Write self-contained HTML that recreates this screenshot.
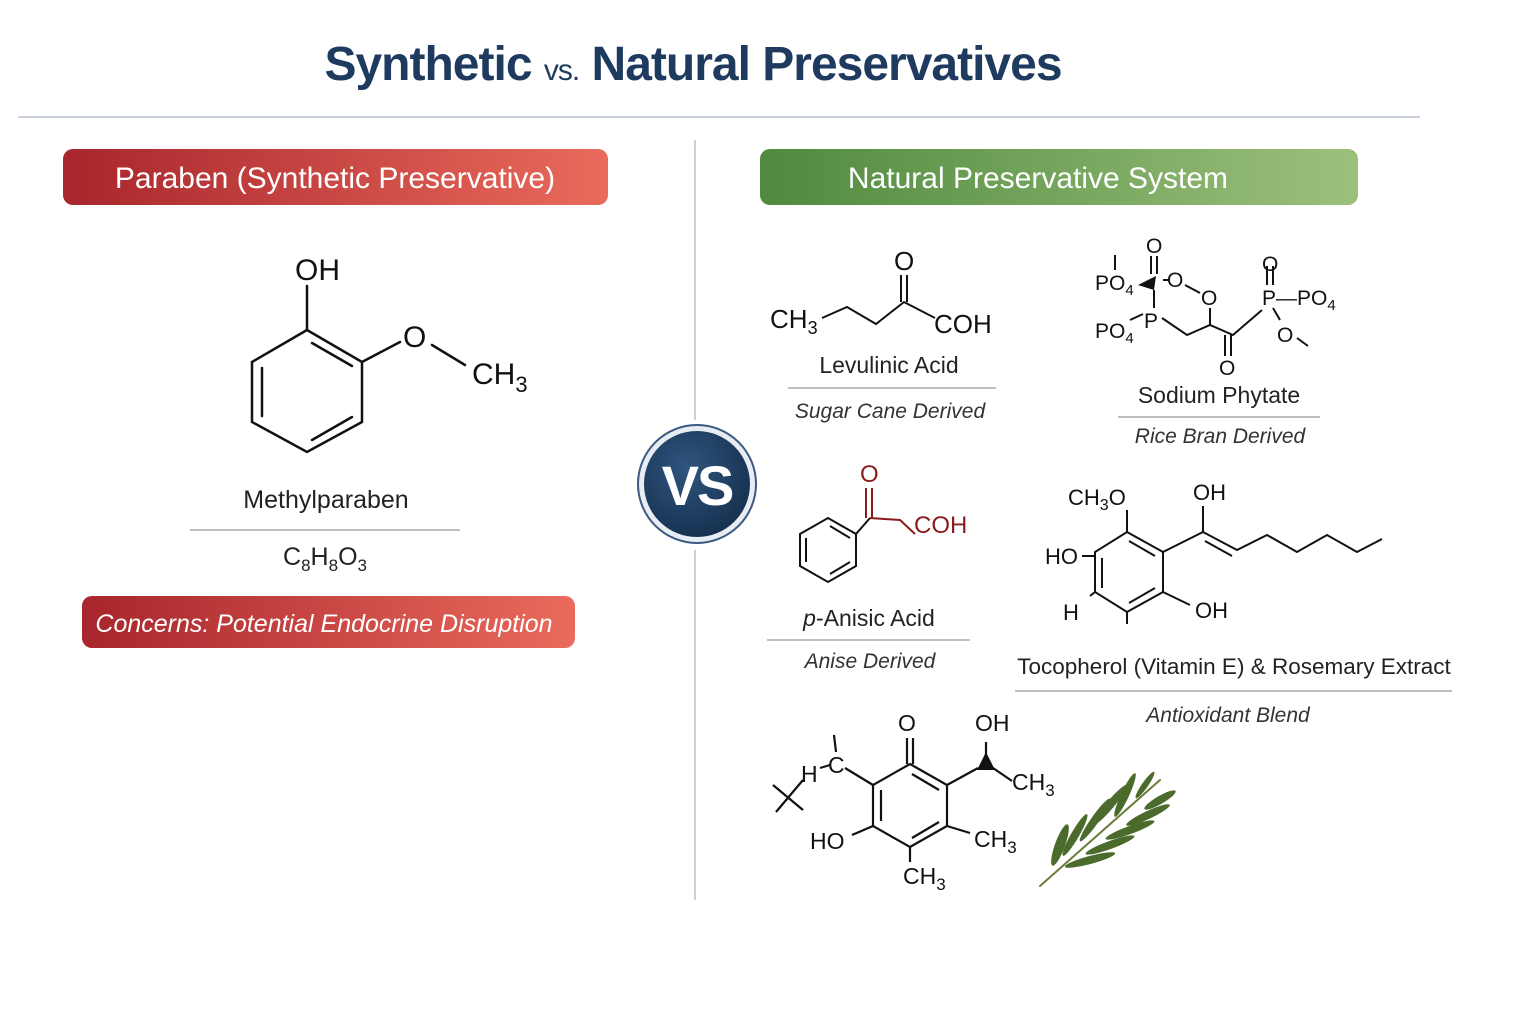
<!DOCTYPE html>
<html><head><meta charset="utf-8">
<style>
html,body{margin:0;padding:0;background:#fff;}
svg{display:block;}
text{font-family:"Liberation Sans",sans-serif;}
</style></head>
<body>
<svg width="1536" height="1024" viewBox="0 0 1536 1024" xmlns="http://www.w3.org/2000/svg">
<defs>
<linearGradient id="red" x1="0" x2="1"><stop offset="0" stop-color="#a8262c"/><stop offset="1" stop-color="#ea6a5c"/></linearGradient>
<linearGradient id="green" x1="0" x2="1"><stop offset="0" stop-color="#4f8a3e"/><stop offset="1" stop-color="#9cc07c"/></linearGradient>
<radialGradient id="vs" cx="0.4" cy="0.35" r="0.7"><stop offset="0" stop-color="#2f557e"/><stop offset="1" stop-color="#16304f"/></radialGradient>
</defs>
<rect width="1536" height="1024" fill="#fff"/>
<text x="693" y="80" text-anchor="middle" fill="#1e3a5f" font-weight="bold" font-size="48" style="letter-spacing:-1px">Synthetic <tspan font-size="30" font-weight="normal">vs.</tspan> Natural Preservatives</text>
<line x1="18" y1="117" x2="1420" y2="117" stroke="#c9d2dc" stroke-width="2"/>
<rect x="63" y="149" width="545" height="56" rx="10" fill="url(#red)"/>
<text x="335" y="188" text-anchor="middle" fill="#fff" font-size="30">Paraben (Synthetic Preservative)</text>
<rect x="760" y="149" width="598" height="56" rx="10" fill="url(#green)"/>
<text x="1038" y="188" text-anchor="middle" fill="#fff" font-size="30">Natural Preservative System</text>
<line x1="695" y1="140" x2="695" y2="420" stroke="#c9d2dc" stroke-width="2"/>
<line x1="695" y1="550" x2="695" y2="900" stroke="#c9d2dc" stroke-width="2"/>
<circle cx="697" cy="484" r="59" fill="#e8edf3" stroke="#3a5a80" stroke-width="2"/>
<circle cx="697" cy="484" r="53" fill="url(#vs)"/>
<text x="697" y="505" text-anchor="middle" fill="#fff" font-weight="bold" font-size="56" style="letter-spacing:-2px">VS</text>

<g stroke="#111" stroke-width="2.5" fill="none" stroke-linecap="round">
<polygon points="307,330 362,362 362,422 307,452 252,422 252,362"/>
<line x1="262" y1="368" x2="262" y2="416"/>
<line x1="312" y1="343" x2="352" y2="366"/>
<line x1="312" y1="440" x2="352" y2="417"/>
<line x1="307" y1="330" x2="307" y2="286"/>
<line x1="362" y1="362" x2="400" y2="342"/>
<line x1="432" y1="345" x2="465" y2="365"/>
</g>
<g font-size="30" fill="#111">
<text x="295" y="280">OH</text>
<text x="403" y="347">O</text>
<text x="472" y="384">CH<tspan font-size="22" dy="8">3</tspan></text>
</g>
<text x="326" y="508" text-anchor="middle" font-size="25" fill="#222">Methylparaben</text>
<line x1="190" y1="530" x2="460" y2="530" stroke="#aaa" stroke-width="1.5"/>
<text x="283" y="565" font-size="25" fill="#222">C<tspan font-size="17" dy="6">8</tspan><tspan dy="-6">H</tspan><tspan font-size="17" dy="6">8</tspan><tspan dy="-6">O</tspan><tspan font-size="17" dy="6">3</tspan></text>
<rect x="82" y="596" width="493" height="52" rx="10" fill="url(#red)"/>
<text x="324" y="632" text-anchor="middle" fill="#fff" font-size="25" font-style="italic">Concerns: Potential Endocrine Disruption</text>

<g stroke="#111" stroke-width="2" fill="none">
<polyline points="822,318 847,307 876,324 904,302 935,318"/>
<line x1="901" y1="302" x2="901" y2="275"/><line x1="907" y1="302" x2="907" y2="275"/>
</g>
<g font-size="26" fill="#111">
<text x="770" y="328">CH<tspan font-size="18" dy="6">3</tspan></text>
<text x="894" y="270">O</text>
<text x="934" y="333">COH</text>
</g>
<text x="889" y="373" text-anchor="middle" font-size="23" fill="#222">Levulinic Acid</text>
<line x1="788" y1="388" x2="996" y2="388" stroke="#aaa" stroke-width="1.5"/>
<text x="890" y="418" text-anchor="middle" font-size="21" font-style="italic" fill="#333">Sugar Cane Derived</text>

<g stroke="#111" stroke-width="2" fill="none">
<line x1="1115" y1="255" x2="1115" y2="270"/>
<line x1="1151" y1="256" x2="1151" y2="274"/><line x1="1157" y1="256" x2="1157" y2="274"/>
<line x1="1154" y1="290" x2="1154" y2="308"/>
<line x1="1163" y1="280" x2="1168" y2="280"/>
<line x1="1185" y1="285" x2="1200" y2="293"/>
<line x1="1130" y1="320" x2="1143" y2="314"/>
<polyline points="1162,318 1187,335 1210,325 1233,335 1262,310"/>
<line x1="1210" y1="325" x2="1210" y2="308"/>
<line x1="1225" y1="335" x2="1225" y2="356"/><line x1="1231" y1="335" x2="1231" y2="356"/>
<line x1="1267" y1="266" x2="1267" y2="285"/><line x1="1273" y1="266" x2="1273" y2="285"/>
<line x1="1273" y1="308" x2="1280" y2="320"/>
<line x1="1297" y1="338" x2="1308" y2="346"/>
</g>
<polygon points="1138,285 1156,276 1154,290" fill="#111"/>
<g font-size="21" fill="#111">
<text x="1095" y="290">PO<tspan font-size="15" dy="5">4</tspan></text>
<text x="1146" y="253">O</text>
<text x="1167" y="287">O</text>
<text x="1201" y="305">O</text>
<text x="1095" y="338">PO<tspan font-size="15" dy="5">4</tspan></text>
<text x="1144" y="328">P</text>
<text x="1219" y="375">O</text>
<text x="1262" y="271">O</text>
<text x="1262" y="305">P—PO<tspan font-size="15" dy="5">4</tspan></text>
<text x="1277" y="342">O</text>
</g>
<text x="1219" y="403" text-anchor="middle" font-size="23" fill="#222">Sodium Phytate</text>
<line x1="1118" y1="417" x2="1320" y2="417" stroke="#aaa" stroke-width="1.5"/>
<text x="1220" y="443" text-anchor="middle" font-size="21" font-style="italic" fill="#333">Rice Bran Derived</text>

<g stroke="#111" stroke-width="2" fill="none">
<polygon points="828,518 856,534 856,566 828,582 800,566 800,534"/>
<line x1="806" y1="538" x2="806" y2="562"/>
<line x1="830" y1="526" x2="850" y2="538"/>
<line x1="830" y1="574" x2="850" y2="562"/>
<line x1="856" y1="534" x2="870" y2="518"/>
</g>
<g stroke="#8a1c1c" stroke-width="2" fill="none">
<line x1="866" y1="518" x2="866" y2="488"/><line x1="872" y1="518" x2="872" y2="488"/>
<polyline points="870,518 900,520 915,534"/>
</g>
<text x="860" y="482" font-size="24" fill="#8a1c1c">O</text>
<text x="914" y="533" font-size="24" fill="#8a1c1c">COH</text>
<text x="869" y="626" text-anchor="middle" font-size="23" fill="#222"><tspan font-style="italic">p</tspan>-Anisic Acid</text>
<line x1="767" y1="640" x2="970" y2="640" stroke="#aaa" stroke-width="1.5"/>
<text x="870" y="668" text-anchor="middle" font-size="21" font-style="italic" fill="#333">Anise Derived</text>

<g stroke="#111" stroke-width="2" fill="none">
<polygon points="1127,532 1163,552 1163,592 1127,612 1095,592 1095,552"/>
<line x1="1102" y1="558" x2="1102" y2="588"/>
<line x1="1129" y1="541" x2="1155" y2="556"/>
<line x1="1129" y1="603" x2="1155" y2="588"/>
<line x1="1127" y1="532" x2="1127" y2="510"/>
<line x1="1082" y1="556" x2="1095" y2="556"/>
<line x1="1090" y1="596" x2="1095" y2="592"/>
<line x1="1127" y1="612" x2="1127" y2="624"/>
<line x1="1163" y1="592" x2="1190" y2="605"/>
<polyline points="1163,552 1203,532 1237,550 1267,535 1297,552 1327,535 1357,552 1382,539"/>
<line x1="1205" y1="541" x2="1232" y2="556"/>
<line x1="1203" y1="532" x2="1203" y2="506"/>
</g>
<g font-size="22" fill="#111">
<text x="1068" y="505">CH<tspan font-size="16" dy="5">3</tspan><tspan dy="-5">O</tspan></text>
<text x="1193" y="500">OH</text>
<text x="1045" y="564">HO</text>
<text x="1063" y="620">H</text>
<text x="1195" y="618">OH</text>
</g>
<text x="1234" y="674" text-anchor="middle" font-size="22.5" fill="#222">Tocopherol (Vitamin E) &amp; Rosemary Extract</text>
<line x1="1015" y1="691" x2="1452" y2="691" stroke="#aaa" stroke-width="1.5"/>
<text x="1228" y="722" text-anchor="middle" font-size="21" font-style="italic" fill="#333">Antioxidant Blend</text>

<g stroke="#111" stroke-width="2.2" fill="none">
<polygon points="910,764 947,785 947,826 910,847 873,826 873,785"/>
<line x1="881" y1="790" x2="881" y2="821"/>
<line x1="912" y1="774" x2="939" y2="790"/>
<line x1="912" y1="838" x2="939" y2="822"/>
<line x1="907" y1="764" x2="907" y2="738"/><line x1="913" y1="764" x2="913" y2="738"/>
<line x1="873" y1="785" x2="845" y2="768"/>
<line x1="834" y1="735" x2="836" y2="752"/>
<line x1="820" y1="768" x2="830" y2="765"/>
<line x1="773" y1="785" x2="803" y2="810"/>
<line x1="776" y1="812" x2="803" y2="780"/>
<line x1="947" y1="785" x2="978" y2="768"/>
<line x1="993" y1="768" x2="1012" y2="781"/>
<line x1="986" y1="742" x2="986" y2="760"/>
<line x1="947" y1="826" x2="970" y2="833"/>
<line x1="873" y1="826" x2="852" y2="835"/>
<line x1="910" y1="847" x2="910" y2="862"/>
</g>
<polygon points="986,752 977,770 995,770" fill="#111"/>
<g font-size="23" fill="#111">
<text x="898" y="731">O</text>
<text x="975" y="731">OH</text>
<text x="801" y="782">H</text>
<text x="828" y="773">C</text>
<text x="1012" y="790">CH<tspan font-size="17" dy="6">3</tspan></text>
<text x="974" y="847">CH<tspan font-size="17" dy="6">3</tspan></text>
<text x="810" y="849">HO</text>
<text x="903" y="884">CH<tspan font-size="17" dy="6">3</tspan></text>
</g>
<g stroke="#6b7d3a" stroke-width="2" fill="none" stroke-linecap="round">
<line x1="1040" y1="886" x2="1160" y2="780"/>
</g>
<g fill="#4a6b2c">
<ellipse cx="1060" cy="845" rx="5" ry="22" transform="rotate(20 1060 845)"/>
<ellipse cx="1075" cy="835" rx="4" ry="24" transform="rotate(30 1075 835)"/>
<ellipse cx="1095" cy="820" rx="4" ry="26" transform="rotate(35 1095 820)"/>
<ellipse cx="1110" cy="805" rx="4" ry="26" transform="rotate(40 1110 805)"/>
<ellipse cx="1125" cy="795" rx="4" ry="24" transform="rotate(25 1125 795)"/>
<ellipse cx="1090" cy="860" rx="4" ry="26" transform="rotate(75 1090 860)"/>
<ellipse cx="1110" cy="845" rx="4" ry="26" transform="rotate(70 1110 845)"/>
<ellipse cx="1130" cy="830" rx="4" ry="26" transform="rotate(70 1130 830)"/>
<ellipse cx="1148" cy="815" rx="4" ry="24" transform="rotate(65 1148 815)"/>
<ellipse cx="1160" cy="800" rx="4" ry="18" transform="rotate(60 1160 800)"/>
<ellipse cx="1145" cy="785" rx="3" ry="16" transform="rotate(35 1145 785)"/>
</g>
</svg>
</body></html>
